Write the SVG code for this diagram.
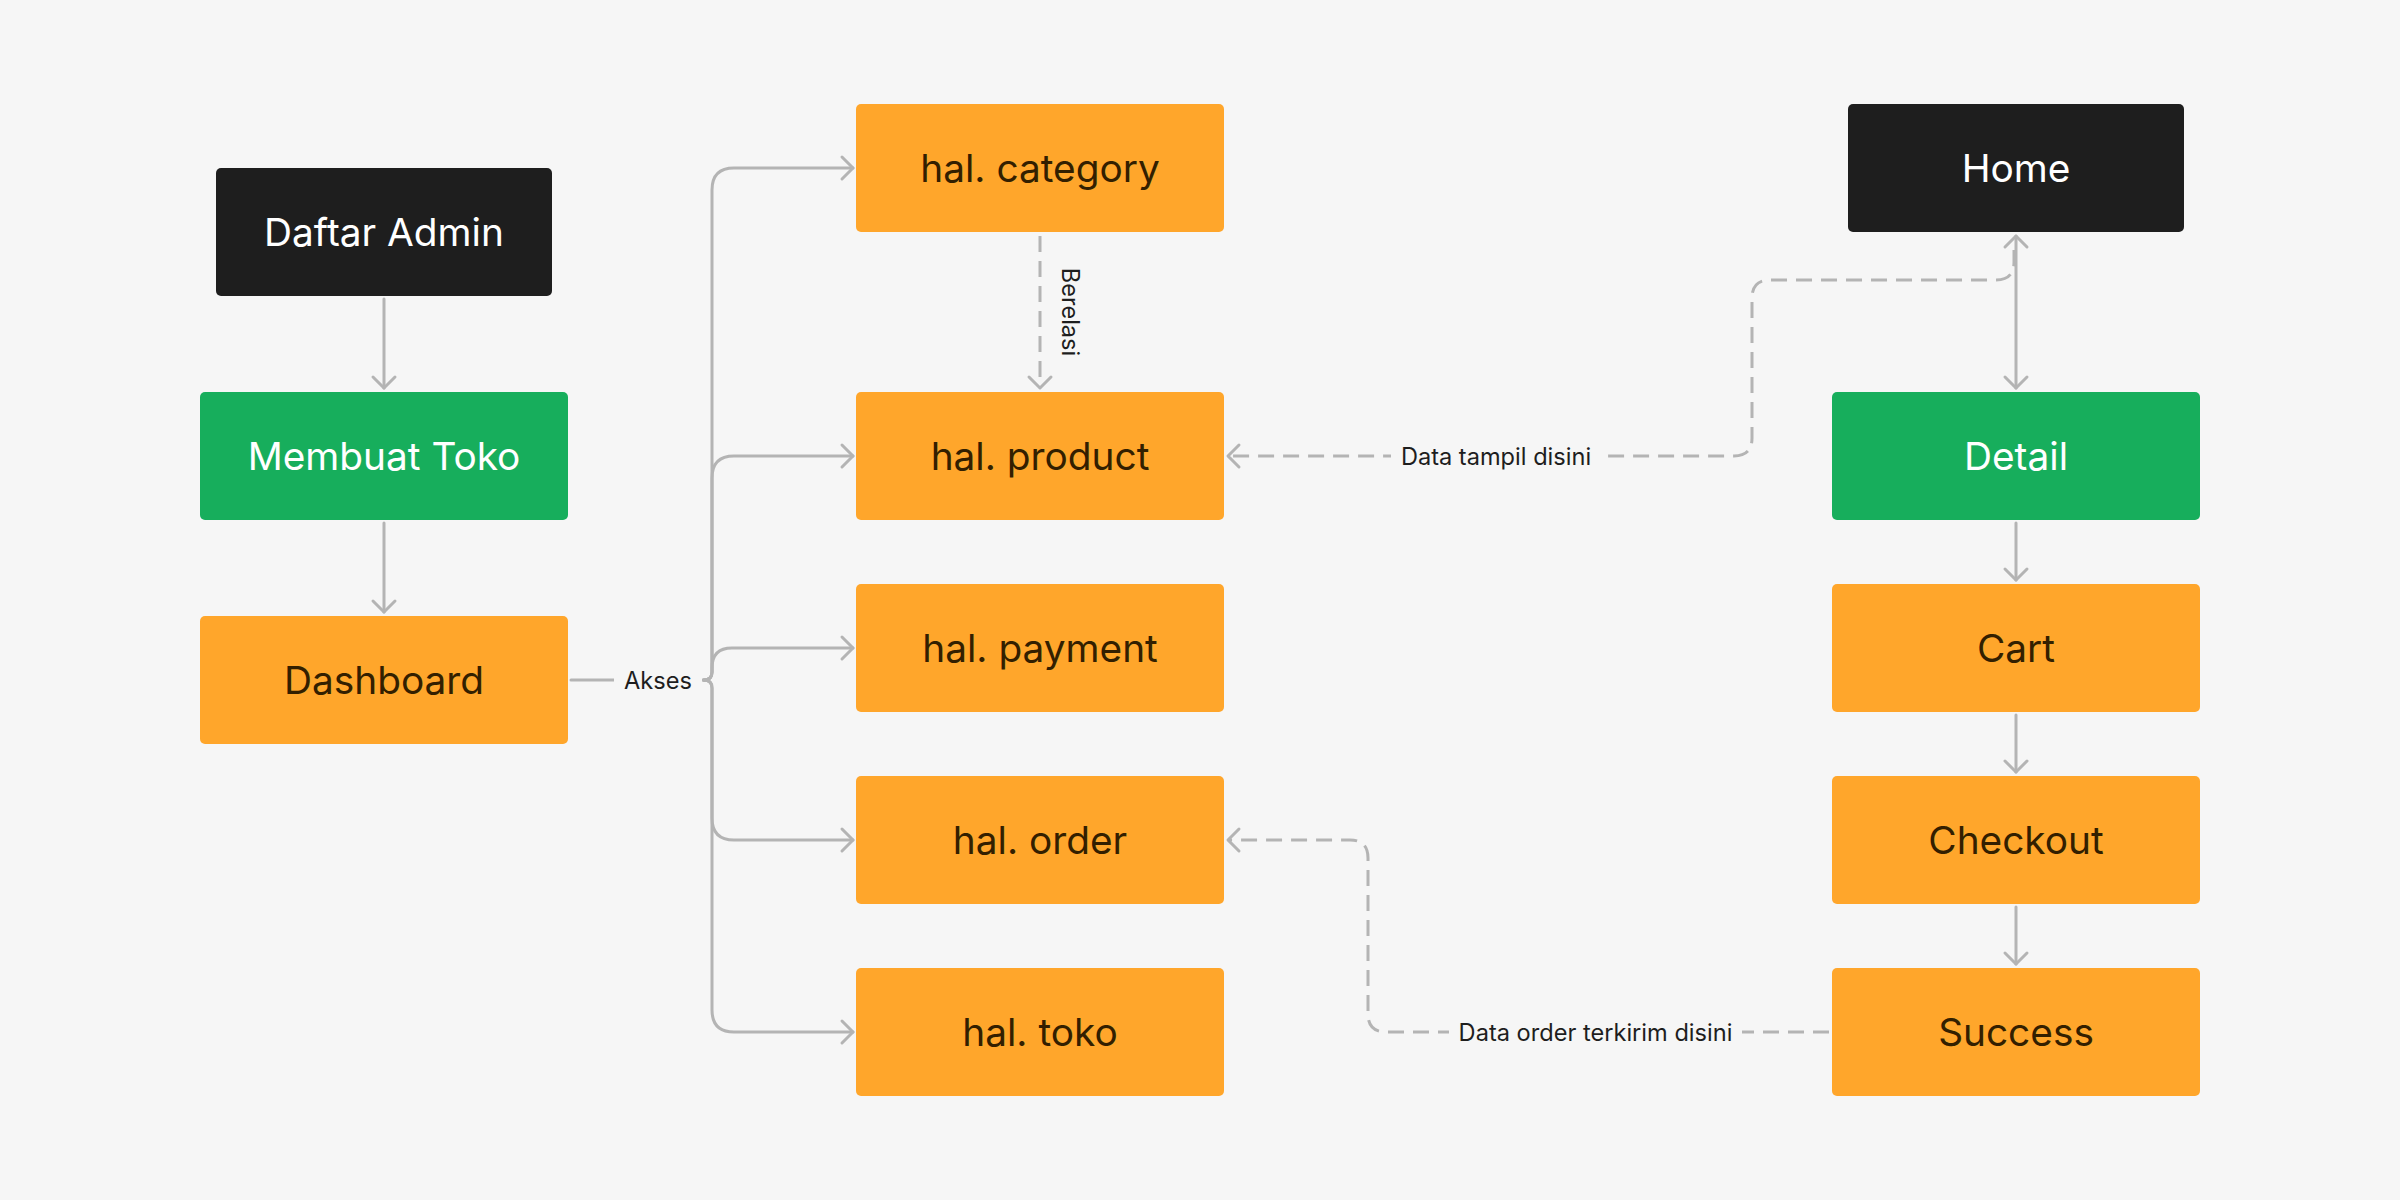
<svg xmlns="http://www.w3.org/2000/svg" width="2400" height="1200" viewBox="0 0 2400 1200">
<style>
.bg{fill:#f6f6f6}
.box{stroke:none}
.black{fill:#1e1e1e}
.green{fill:#17ae5c}
.orange{fill:#ffa62b}
.t{font-family:Inter,"Noto Sans","Liberation Sans",sans-serif;font-size:38.8px;font-weight:400;text-anchor:middle}
.tw{fill:#ffffff}
.td{fill:#331f00}
.lbl{font-family:Inter,"Noto Sans","Liberation Sans",sans-serif;font-size:23.6px;fill:#1e1e1e;text-anchor:middle}
.c{fill:none;stroke:#b4b4b4;stroke-width:3;stroke-linecap:round;stroke-linejoin:round}
.d{stroke-dasharray:16 9;stroke-linecap:butt}
.lb{fill:#f6f6f6}
</style>
<defs>
<marker id="arr" markerUnits="userSpaceOnUse" markerWidth="30" markerHeight="30" viewBox="-15 -15 30 30" refX="0" refY="0" orient="auto-start-reverse" overflow="visible">
<path d="M-11,-11 L0,0 L-11,11" fill="none" stroke="#b4b4b4" stroke-width="3" stroke-linecap="round" stroke-linejoin="round"/>
</marker>
</defs>
<rect class="bg" x="0" y="0" width="2400" height="1200"/>
<g id="connectors">
<path class="c" d="M384,299 V388" marker-end="url(#arr)"/>
<path class="c" d="M384,523 V612" marker-end="url(#arr)"/>
<path class="c" d="M571,680 H704"/>
<path class="c" d="M704,680 Q712,680 712,672 V190 Q712,168 734,168 H853" marker-end="url(#arr)"/>
<path class="c" d="M704,680 Q712,680 712,672 V478 Q712,456 734,456 H853" marker-end="url(#arr)"/>
<path class="c" d="M704,680 Q712,680 712,672 V668 Q712,648 732,648 H853" marker-end="url(#arr)"/>
<path class="c" d="M704,680 Q712,680 712,688 V818 Q712,840 734,840 H853" marker-end="url(#arr)"/>
<path class="c" d="M704,680 Q712,680 712,688 V1010 Q712,1032 734,1032 H853" marker-end="url(#arr)"/>
<rect class="lb" x="614" y="664" width="88" height="32"/>
<text class="lbl" x="658" y="688.6">Akses</text>
<path class="c d" d="M1040,236 V388" marker-end="url(#arr)"/>
<text class="lbl" transform="translate(1062,312) rotate(90)" x="0" y="0">Berelasi</text>
<path class="c" d="M2016,236 V388" marker-start="url(#arr)" marker-end="url(#arr)"/>
<path class="c" d="M2016,523 V580" marker-end="url(#arr)"/>
<path class="c" d="M2016,715 V772" marker-end="url(#arr)"/>
<path class="c" d="M2016,907 V964" marker-end="url(#arr)"/>
<path class="c d" d="M2014,250 V262 Q2014,280 1996,280 H1770 Q1752,280 1752,298 V438 Q1752,456 1734,456 H1228" marker-end="url(#arr)"/>
<rect class="lb" x="1391" y="440" width="210" height="32"/>
<text class="lbl" x="1496" y="464.6">Data tampil disini</text>
<path class="c d" d="M1829,1032 H1386 Q1368,1032 1368,1014 V858 Q1368,840 1350,840 H1228" marker-end="url(#arr)"/>
<rect class="lb" x="1449" y="1016" width="293" height="32"/>
<text class="lbl" x="1595.5" y="1040.6">Data order terkirim disini</text>
</g>
<g id="daftar-admin"><rect class="box black" x="216" y="168" width="336" height="128" rx="5"/><text class="t tw" x="384" y="246">Daftar Admin</text></g>
<g id="membuat-toko"><rect class="box green" x="200" y="392" width="368" height="128" rx="5"/><text class="t tw" x="384" y="470">Membuat Toko</text></g>
<g id="dashboard"><rect class="box orange" x="200" y="616" width="368" height="128" rx="5"/><text class="t td" x="384" y="694">Dashboard</text></g>
<g id="hal-category"><rect class="box orange" x="856" y="104" width="368" height="128" rx="5"/><text class="t td" x="1040" y="182">hal. category</text></g>
<g id="hal-product"><rect class="box orange" x="856" y="392" width="368" height="128" rx="5"/><text class="t td" x="1040" y="470">hal. product</text></g>
<g id="hal-payment"><rect class="box orange" x="856" y="584" width="368" height="128" rx="5"/><text class="t td" x="1040" y="662">hal. payment</text></g>
<g id="hal-order"><rect class="box orange" x="856" y="776" width="368" height="128" rx="5"/><text class="t td" x="1040" y="854">hal. order</text></g>
<g id="hal-toko"><rect class="box orange" x="856" y="968" width="368" height="128" rx="5"/><text class="t td" x="1040" y="1046">hal. toko</text></g>
<g id="home"><rect class="box black" x="1848" y="104" width="336" height="128" rx="5"/><text class="t tw" x="2016" y="182">Home</text></g>
<g id="detail"><rect class="box green" x="1832" y="392" width="368" height="128" rx="5"/><text class="t tw" x="2016" y="470">Detail</text></g>
<g id="cart"><rect class="box orange" x="1832" y="584" width="368" height="128" rx="5"/><text class="t td" x="2016" y="662">Cart</text></g>
<g id="checkout"><rect class="box orange" x="1832" y="776" width="368" height="128" rx="5"/><text class="t td" x="2016" y="854">Checkout</text></g>
<g id="success"><rect class="box orange" x="1832" y="968" width="368" height="128" rx="5"/><text class="t td" x="2016" y="1046">Success</text></g>
</svg>
